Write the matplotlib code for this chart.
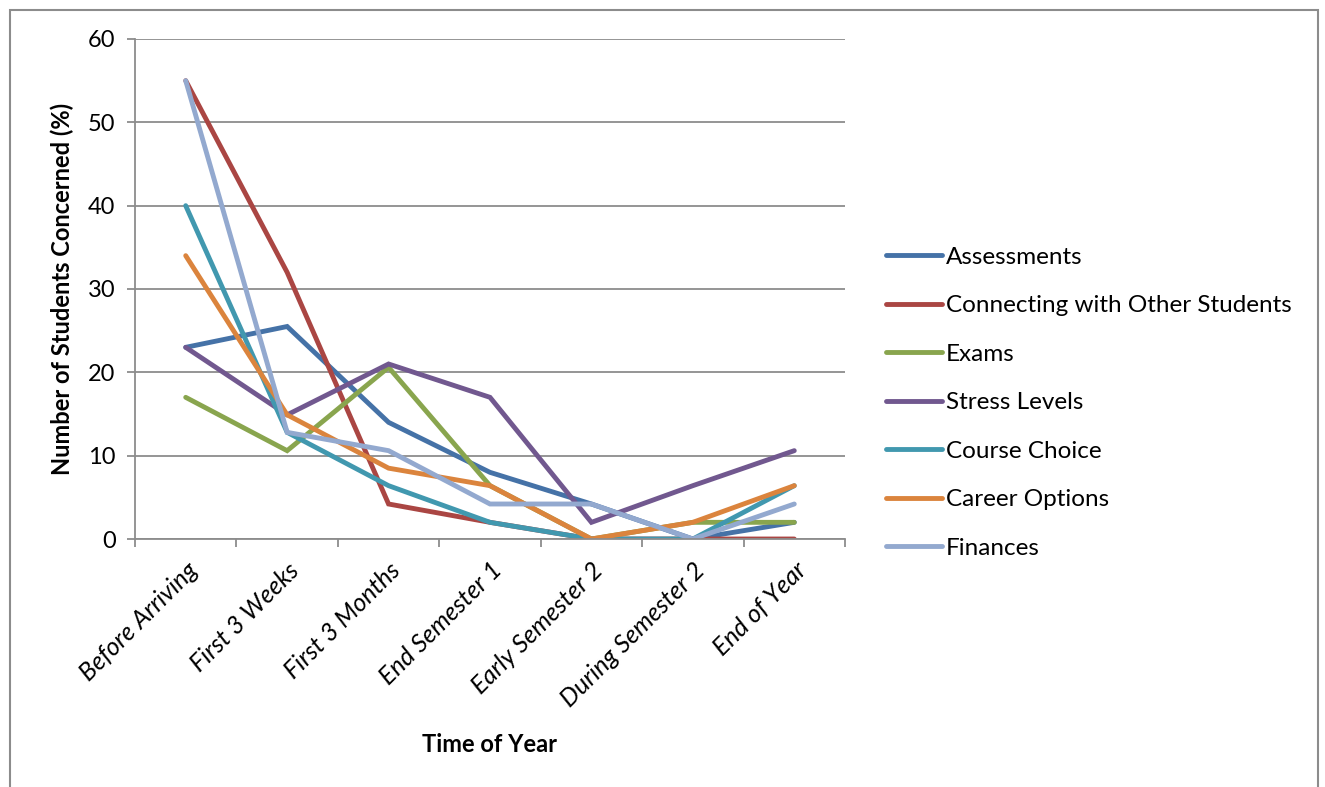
import numpy as np
import matplotlib
matplotlib.use('Agg')
import matplotlib.pyplot as plt
from matplotlib.patches import Rectangle
from matplotlib.ticker import FixedLocator

plt.rcParams['font.family'] = ['Lato', 'DejaVu Sans']

periods = ['Before Arriving', 'First 3 Weeks', 'First 3 Months', 'End Semester 1',
           'Early Semester 2', 'During Semester 2', 'End of Year']

assessments = [23, 25.5, 14, 8, 4.2, 0, 2]
connecting = [55, 32, 4.2, 2, 0, 0, 0]
exams = [17, 10.6, 20.6, 6.4, 0, 2, 2]
stress = [23, 14.9, 21, 17, 2, 6.4, 10.6]
course_choice = [40, 12.8, 6.4, 2, 0, 0, 6.4]
career = [34, 14.9, 8.5, 6.4, 0, 2, 6.4]
finances = [55, 12.8, 10.6, 4.2, 4.2, 0, 4.2]

series = [
    ('Assessments', assessments, '#4572A7'),
    ('Connecting with Other Students', connecting, '#AA4643'),
    ('Exams', exams, '#89A54E'),
    ('Stress Levels', stress, '#71588F'),
    ('Course Choice', course_choice, '#4198AF'),
    ('Career Options', career, '#DB843D'),
    ('Finances', finances, '#93A9CF'),
]

W, H = 1325, 787
fig = plt.figure(figsize=(W / 100, H / 100), dpi=100)
ax = fig.add_axes([135 / W, 1 - 539 / H, 710 / W, 500 / H])

x = np.arange(len(periods))
for name, vals, col in series:
    ax.plot(x, vals, color=col, lw=3.5, label=name,
            solid_capstyle='round', solid_joinstyle='miter')

ax.set_xlim(-0.5, len(periods) - 0.5)
ax.set_ylim(0, 60)
ax.set_yticks(range(0, 61, 10))
ax.yaxis.grid(True, color='#8c8c8c', lw=1.3)
ax.set_axisbelow(True)

ax.set_xticks(x)
ax.set_xticklabels(periods, rotation=45, ha='right', rotation_mode='anchor',
                   fontsize=18, style='italic')
ax.xaxis.set_minor_locator(FixedLocator(np.arange(-0.5, len(periods), 1)))
ax.tick_params(axis='x', which='major', length=0, pad=14)
ax.tick_params(axis='x', which='minor', length=6, color='#8c8c8c', width=1.3)
ax.tick_params(axis='y', length=6, color='#8c8c8c', width=1.3, labelsize=17, pad=8)

for s in ['top', 'right']:
    ax.spines[s].set_visible(False)
for s in ['left', 'bottom']:
    ax.spines[s].set_color('#8c8c8c')
    ax.spines[s].set_linewidth(1.3)

ax.set_ylabel('Number of Students Concerned (%)', fontsize=17, fontweight='bold', labelpad=10)
fig.text(490 / W, 1 - 745 / H, 'Time of Year', fontsize=17, fontweight='bold',
         ha='center', va='center')

leg = fig.legend(loc='upper left', bbox_to_anchor=(876 / W, 1 - 237 / H),
                 frameon=False, fontsize=17.5, handlelength=2.3, handletextpad=0.18,
                 labelspacing=1.13, borderaxespad=0)

# outer chart border
fig.patches.append(Rectangle((10 / W, -0.05), 1308 / W, 1 - 10 / H + 0.05,
                             transform=fig.transFigure, fill=False,
                             edgecolor='#8c8c8c', lw=1.5))

fig.savefig('out.png', dpi=100)
